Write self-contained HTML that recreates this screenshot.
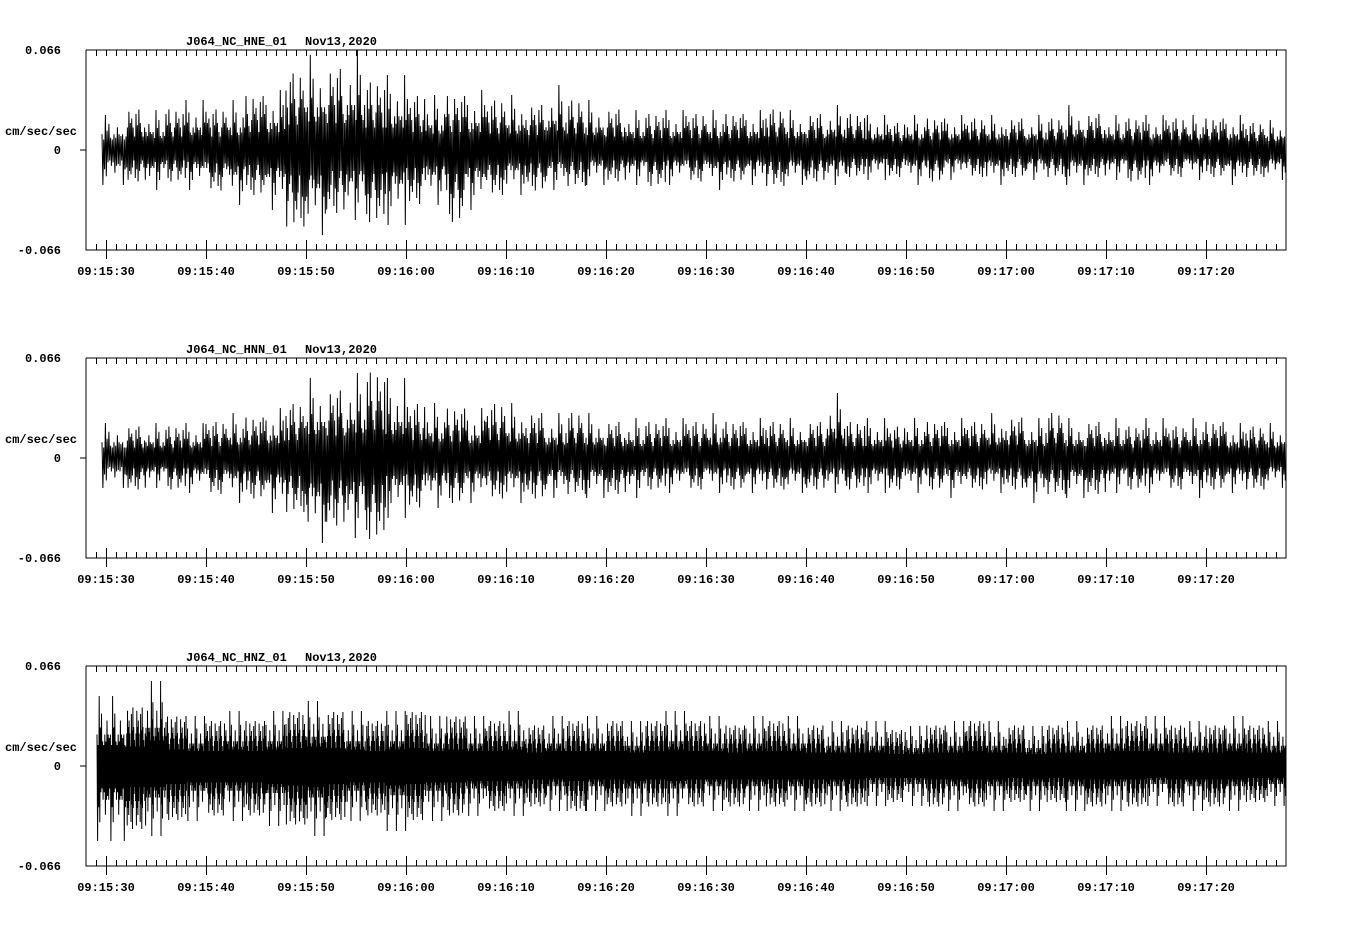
<!DOCTYPE html>
<html><head><meta charset="utf-8"><style>
html,body{margin:0;padding:0;background:#fff;}
svg text{font-family:"Liberation Mono",monospace;font-weight:bold;font-size:12px;fill:#000;}
</style></head><body>
<svg id="chart" width="1358" height="924" viewBox="0 0 1358 924" xmlns="http://www.w3.org/2000/svg"></svg>
<script>
// Envelope peaks per 2-second bin starting 09:15:30, as fraction of full scale (0.066 cm/sec/sec)
const channels = ["J064_NC_HNE_01","J064_NC_HNN_01","J064_NC_HNZ_01"];
const dateLabel = "Nov13,2020";
const tickLabels = ["09:15:30","09:15:40","09:15:50","09:16:00","09:16:10","09:16:20","09:16:30","09:16:40","09:16:50","09:17:00","09:17:10","09:17:20"];
const fullScale = 0.066;
const heHi = [.35,.45,.4,.45,.5,.45,.5,.6,.6,.85,.95,.9,1.0,.75,.75,.6,.55,.6,.6,.55,.55,.5,.65,.55,.5,.45,.4,.4,.4,.4,.4,.4,.4,.45,.4,.4,.45,.4,.35,.3,.35,.35,.35,.35,.35,.35,.35,.35,.45,.4,.35,.35,.35,.35,.35,.35,.35,.3,.3];
const heLo = [.35,.35,.4,.35,.4,.45,.55,.5,.6,.85,.85,.7,.7,.8,.75,.6,.55,.8,.6,.5,.45,.45,.4,.4,.35,.35,.35,.4,.35,.35,.4,.35,.35,.4,.35,.35,.35,.3,.3,.3,.35,.35,.3,.3,.35,.3,.3,.3,.35,.3,.3,.35,.35,.3,.3,.3,.35,.3,.3];
const hnHi = [.35,.35,.35,.35,.35,.4,.45,.45,.5,.6,.8,.75,.85,.95,.8,.6,.55,.55,.5,.6,.55,.5,.45,.5,.45,.4,.4,.4,.4,.4,.45,.4,.4,.4,.4,.4,.65,.4,.4,.35,.4,.4,.4,.4,.45,.45,.4,.5,.4,.4,.4,.35,.4,.35,.4,.4,.35,.35,.35];
const hnLo = [.3,.35,.3,.35,.35,.4,.45,.45,.55,.6,.85,.75,.8,.9,.6,.55,.5,.5,.45,.45,.45,.45,.4,.4,.4,.4,.4,.35,.35,.35,.35,.35,.35,.35,.35,.35,.35,.35,.35,.35,.35,.35,.4,.35,.35,.35,.45,.4,.4,.4,.35,.35,.35,.35,.4,.35,.35,.35,.3];
const hzHi = [.7,.65,.85,.55,.5,.5,.55,.5,.55,.6,.65,.6,.55,.5,.55,.6,.5,.55,.5,.5,.55,.45,.5,.5,.5,.5,.45,.5,.55,.5,.5,.45,.5,.5,.5,.45,.45,.45,.45,.4,.4,.45,.45,.5,.45,.45,.4,.45,.45,.45,.5,.5,.5,.45,.45,.45,.5,.45,.45];
const hzLo = [.75,.7,.7,.6,.55,.55,.55,.55,.6,.65,.7,.6,.55,.55,.65,.6,.55,.55,.5,.5,.5,.45,.45,.5,.45,.45,.5,.45,.5,.45,.45,.45,.45,.45,.45,.45,.45,.45,.4,.4,.4,.45,.45,.45,.45,.4,.45,.4,.45,.45,.45,.45,.4,.45,.45,.45,.45,.4,.4];
const series = [[heHi,heLo],[hnHi,hnLo],[hzHi,hzLo]];

const NS="http://www.w3.org/2000/svg";
const svg=document.getElementById('chart');
function mk(tag,attrs,parent){const e=document.createElementNS(NS,tag);for(const k in attrs)e.setAttribute(k,attrs[k]);(parent||svg).appendChild(e);return e;}
const X0=86,X1=1286,PX=10,T0=28; // 09:15:28 at left edge
const pattern=[.45,.9,.3,.6,1,.4,.55,.3,.75,.5,.35,.85,.3,.6,.45,.7,.35,.5,.65,.3,.45,.8,.4,.55];
function xs(t){return X0+(t-T0)*PX;}
channels.forEach((ch,p)=>{
  const top=50+308*p, bot=top+200, mid=top+100;
  const ys=v=>mid-v/fullScale*100;
  const g=mk('g',{});
  
  
  const title=mk('text',{x:186,y:top-5},g);title.textContent=ch;
  
  const date=mk('text',{x:305,y:top-5},g);date.textContent=dateLabel;
  
  const yl=[["0.066",top+4],["0",mid+4],["-0.066",bot+4]];
  yl.forEach(([s,y])=>{const t=mk('text',{x:61,y:y,'text-anchor':'end'},g);t.textContent=s;
    });
  const u=mk('text',{x:5,y:mid-15},g);u.textContent="cm/sec/sec";
  
  let d=`M${X0} ${top}H${X1}V${bot}H${X0}V${top}M${X0-6} ${mid}H${X0}`;
  for(let s=T0+1;s<T0+120;s++){const x=xs(s)+0.5;d+=`M${x} ${top}v6M${x} ${bot}v-6`;}
  for(let i=0;i<tickLabels.length;i++){const x=xs(30+10*i)+0.5;d+=`M${x} ${bot-10}V${bot+9}`;}
  const fr=mk('path',{d:d,stroke:'#000','stroke-width':1,fill:'none','shape-rendering':'crispEdges'},g);
  
  tickLabels.forEach((s,i)=>{const t=mk('text',{x:xs(30+10*i),y:bot+25,'text-anchor':'middle'},g);t.textContent=s;
    });
  const [hi,lo]=series[p];
  const n=p===2?52:28;
  const start=p===2?29.1:29.6;
  let w='';
  hi.forEach((h,i)=>{
    const b0=i===0?start:30+2*i, b1=30+2*i+2;
    for(let k=0;k<n;k++){
      const t=b0+(b1-b0)*k/n;
      const v=(k%2===0)?h*pattern[(k+i*7)%pattern.length]*fullScale:-lo[i]*pattern[(k+i*5+3)%pattern.length]*fullScale;
      w+=(w?'L':'M')+xs(t).toFixed(1)+' '+ys(v).toFixed(1);
    }
  });
  const wl=mk('path',{d:w,stroke:'#000','stroke-width':1,fill:'none'},g);
  
});
</script>
</body></html>
